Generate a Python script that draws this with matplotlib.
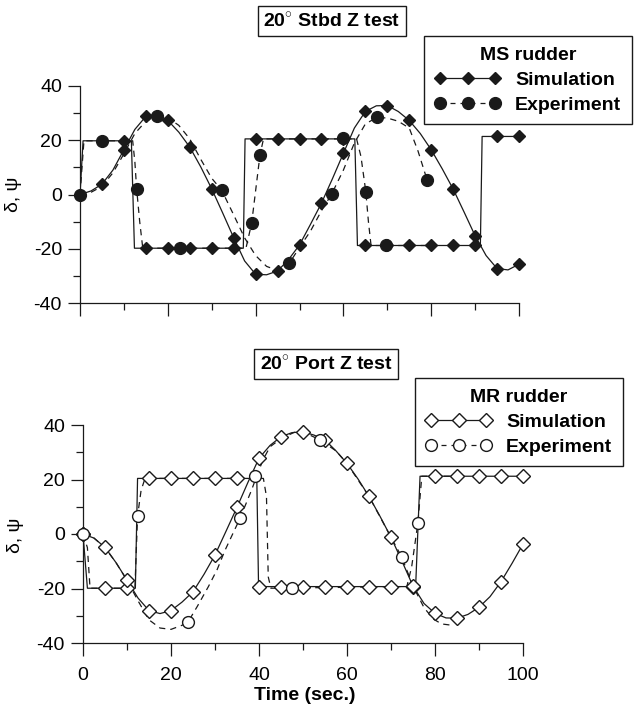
import matplotlib
matplotlib.use("Agg")
import matplotlib.pyplot as plt
from matplotlib.lines import Line2D
from matplotlib.ticker import MultipleLocator

plt.rcParams['font.family'] = ['Liberation Sans', 'DejaVu Sans']
plt.rcParams['mathtext.fontset'] = 'custom'
plt.rcParams['mathtext.rm'] = 'Liberation Sans'
plt.rcParams['axes.unicode_minus'] = False

# ---------------- data: top panel (20 deg Stbd Z test, MS rudder) ----------------
ms_sim_delta_t = [0, 0.7, 11.7, 12.4, 37.2, 37.6, 62.6, 63.2, 91.2, 91.6, 100]
ms_sim_delta_v = [0, 19.8, 19.8, -19.8, -19.8, 20.5, 20.5, -18.8, -18.8, 21.4, 21.4]
mk_t = [0, 5, 10, 15, 20, 25, 30, 35, 40, 45, 50, 55, 60, 65, 70, 75, 80, 85, 90, 95, 100]
ms_sim_delta_mk = [0, 19.8, 19.8, -19.8, -19.8, -19.8, -19.8, -19.8, 20.5, 20.5, 20.5,
                   20.5, 20.5, -18.8, -18.8, -18.8, -18.8, -18.8, -18.8, 21.4, 21.4]
psi_t = [0, 2.5, 5, 7.5, 10, 12.5, 15, 17.5, 20, 22.5, 25, 27.5, 30, 32.5, 35, 37.5, 40,
         42.5, 45, 47.5, 50, 52.5, 55, 57.5, 60, 62.5, 65, 67.5, 70, 72.5, 75, 77.5, 80,
         82.5, 85, 87.5, 90, 92.5, 95, 97.5, 100]
ms_sim_psi = [0, 1.3, 3.8, 9.0, 16.5, 24.0, 28.8, 29.6, 27.3, 23.0, 17.5, 10.2, 2.1, -6.8,
              -15.9, -24.5, -29.4, -29.6, -28.2, -24.0, -18.6, -11.0, -3.2, 5.8, 15.2, 24.5,
              30.6, 32.7, 32.8, 30.6, 27.3, 22.5, 16.5, 9.5, 2.0, -6.5, -15.2, -22.5, -27.3,
              -27.8, -25.7]
ms_exp_delta_t = [0, 0.9, 12.0, 12.5, 12.9, 13.6, 14.3, 37.8, 39.1, 41.0, 41.8, 63.0, 64.0,
                  65.1, 65.7, 66.3, 79.0]
ms_exp_delta_v = [0, 19.8, 19.8, 12.0, 2.1, -10.0, -19.8, -19.8, -10.6, 14.6, 20.5, 20.5,
                  14.0, 1.1, -10.0, -18.8, -18.8]
ms_exp_delta_mk_t = [0, 4.9, 12.9, 22.8, 39.1, 41.0, 59.8, 65.1, 69.7]
ms_exp_delta_mk_v = [0, 19.8, 2.1, -19.8, -10.6, 14.6, 20.8, 1.1, -18.8]
ms_exp_psi_t = [0, 2.5, 5, 7.5, 10, 12.5, 15, 17.5, 20, 22.5, 25, 27.5, 30, 32.3, 35, 37.5,
                40, 42.5, 45, 47.7, 50, 52.5, 55, 57.3, 60, 62.5, 65, 67.6, 70, 72.5, 75, 77,
                79.1]
ms_exp_psi_v = [0, 0.8, 3.0, 8.0, 15.0, 22.5, 27.0, 28.8, 28.3, 25.5, 20.5, 13.0, 6.0, 1.5,
                -7.5, -16.0, -22.5, -26.5, -28.0, -25.3, -19.5, -13.5, -6.0, 0.1, 9.0, 19.0,
                26.0, 28.4, 28.2, 27.0, 24.5, 16.0, 5.2]
ms_exp_psi_mk_t = [17.5, 32.3, 47.7, 57.3, 67.6, 79.1]
ms_exp_psi_mk_v = [28.8, 1.5, -25.3, 0.1, 28.4, 5.2]

# ---------------- data: bottom panel (20 deg Port Z test, MR rudder) ----------------
mr_sim_delta_t = [0, 1.0, 11.9, 12.4, 39.5, 39.9, 75.6, 76.6, 100]
mr_sim_delta_v = [0, -19.9, -19.9, 20.4, 20.4, -19.3, -19.3, 21.2, 21.2]
mr_sim_delta_mk = [0, -19.9, -19.9, 20.4, 20.4, 20.4, 20.4, 20.4, -19.3, -19.3, -19.3,
                   -19.3, -19.3, -19.3, -19.3, -19.3, 21.2, 21.2, 21.2, 21.2, 21.2]
mr_sim_psi = [0, -1.5, -4.9, -10.5, -16.9, -23.5, -28.1, -29.2, -28.1, -25.0, -21.2, -14.8,
              -7.7, 1.0, 9.8, 19.0, 27.8, 32.5, 35.7, 37.2, 37.5, 36.3, 34.5, 30.5, 25.9,
              20.2, 13.8, 6.5, -1.2, -10.0, -19.1, -25.5, -29.1, -30.8, -30.9, -29.5, -26.9,
              -23.0, -17.5, -10.8, -3.7]
mr_exp_delta_t = [0, 1.0, 1.6, 11.8, 12.4, 13.2, 14.1, 41.0, 41.7, 42.1, 42.7, 73.6, 74.7,
                  76.1, 77.0, 84.0]
mr_exp_delta_v = [0, -5.0, -19.9, -19.9, 6.6, 16.0, 20.4, 20.4, 13.7, -15.7, -19.9, -19.3,
                  -12.0, 3.9, 21.2, 21.2]
mr_exp_delta_mk_t = [0, 12.4, 39.1, 47.4, 76.1]
mr_exp_delta_mk_v = [0, 6.6, 21.2, -19.9, 3.9]
mr_exp_psi_t = [0, 2.5, 5, 7.5, 10, 12.5, 15, 17.5, 20, 22.5, 23.9, 26, 28.5, 30.5, 32.3,
                35.7, 38.3, 40, 41, 42.5, 45, 48, 50, 53.9, 57.5, 60, 65, 70, 72.4, 75,
                77.5, 79.6, 81.5, 83.4]
mr_exp_psi_v = [0, -1.5, -5.0, -10.5, -17.0, -24.5, -31.5, -34.5, -35.0, -33.5, -32.2,
                -26.5, -19.3, -13.0, -5.9, 5.8, 16.1, 23.5, 27.5, 32.0, 35.0, 37.3, 37.5,
                34.5, 30.5, 25.9, 13.8, -1.2, -8.3, -19.1, -27.0, -31.2, -33.0, -33.4]
mr_exp_psi_mk_t = [23.9, 35.7, 53.9, 72.4]
mr_exp_psi_mk_v = [-32.2, 5.8, 34.5, -8.3]

x_ticks = [0, 20, 40, 60, 80, 100]
y_ticks = [-40, -20, 0, 20, 40]

LC = '#1a1a1a'
W, H = 634, 706


def fx(px):
    return px / W


def fy(py):
    return 1 - py / H


fig = plt.figure(figsize=(W / 100, H / 100), dpi=100)
ax1 = fig.add_axes([fx(80), fy(303), (519 - 80) / W, (303 - 86) / H])
ax2 = fig.add_axes([fx(83), fy(643), (523 - 83) / W, (643 - 425) / H])


def style_axes(ax, show_xlabels):
    ax.set_xlim(0, 100)
    ax.set_ylim(-40, 40)
    for s in ['top', 'right']:
        ax.spines[s].set_visible(False)
    for s in ['left', 'bottom']:
        ax.spines[s].set_linewidth(0.9)
        ax.spines[s].set_color(LC)
    ax.set_xticks(x_ticks)
    ax.set_yticks(y_ticks)
    ax.xaxis.set_minor_locator(MultipleLocator(10))
    ax.yaxis.set_minor_locator(MultipleLocator(10))
    ax.tick_params(which='major', direction='out', length=9, width=0.9, color=LC,
                   labelsize=14)
    ax.tick_params(which='minor', direction='out', length=5, width=0.9, color=LC)
    ax.tick_params(axis='x', which='major', pad=8)
    ax.tick_params(axis='y', which='major', pad=4)
    if not show_xlabels:
        ax.tick_params(axis='x', labelbottom=False)


def draw_panel(ax, filled, sd_t, sd_v, sd_mk, sp_v, ed_t, ed_v, edm_t, edm_v,
               ep_t, ep_v, epm_t, epm_v):
    fc = LC if filled else 'white'
    dms = 6.5 if filled else 7
    cms = 8.5
    ax.plot(sd_t, sd_v, '-', color=LC, lw=0.9, zorder=2)
    ax.plot(psi_t, sp_v, '-', color=LC, lw=0.9, zorder=2)
    ax.plot(ed_t, ed_v, '--', color=LC, lw=0.9, dashes=(5, 4), zorder=2)
    ax.plot(ep_t, ep_v, '--', color=LC, lw=0.9, dashes=(5, 4), zorder=2)
    ax.plot(mk_t, sd_mk, 'D', ms=dms, mfc=fc, mec=LC, mew=1.0, clip_on=False, zorder=4)
    ax.plot(psi_t[::2], sp_v[::2], 'D', ms=dms, mfc=fc, mec=LC, mew=1.0, clip_on=False,
            zorder=4)
    ax.plot(edm_t, edm_v, 'o', ms=cms, mfc=fc, mec=LC, mew=1.0, clip_on=False, zorder=5)
    ax.plot(epm_t, epm_v, 'o', ms=cms, mfc=fc, mec=LC, mew=1.0, clip_on=False, zorder=5)
    h_sim = Line2D([], [], color=LC, lw=0.9, marker='D', ms=dms, mfc=fc, mec=LC, mew=1.0)
    h_exp = Line2D([], [], color=LC, lw=0.9, ls='--', dashes=(4, 4), marker='o', ms=cms,
                   mfc=fc, mec=LC, mew=1.0)
    return h_sim, h_exp


style_axes(ax1, False)
style_axes(ax2, True)

h1 = draw_panel(ax1, True, ms_sim_delta_t, ms_sim_delta_v, ms_sim_delta_mk, ms_sim_psi,
                ms_exp_delta_t, ms_exp_delta_v, ms_exp_delta_mk_t, ms_exp_delta_mk_v,
                ms_exp_psi_t, ms_exp_psi_v, ms_exp_psi_mk_t, ms_exp_psi_mk_v)
h2 = draw_panel(ax2, False, mr_sim_delta_t, mr_sim_delta_v, mr_sim_delta_mk, mr_sim_psi,
                mr_exp_delta_t, mr_exp_delta_v, mr_exp_delta_mk_t, mr_exp_delta_mk_v,
                mr_exp_psi_t, mr_exp_psi_v, mr_exp_psi_mk_t, mr_exp_psi_mk_v)


def add_legend(handles, title, right_px, top_px):
    leg = fig.legend(handles, ['Simulation', 'Experiment'], title=title,
                     loc='upper right', bbox_to_anchor=(fx(right_px), fy(top_px)),
                     numpoints=3, handlelength=3.4, handletextpad=0.75,
                     labelspacing=0.38, borderpad=0.55, borderaxespad=0,
                     fancybox=False, framealpha=1, edgecolor=LC,
                     prop={'weight': 'bold', 'size': 14},
                     title_fontproperties={'weight': 'bold', 'size': 14})
    leg.get_frame().set_linewidth(1.0)
    return leg


add_legend(h1, 'MS rudder', 632, 36)
add_legend(h2, 'MR rudder', 623, 378)

box = dict(boxstyle='square,pad=0.3', fc='white', ec=LC, lw=1.0)
fig.text(fx(332), fy(21), '20$^{\\circ}$ Stbd Z test', ha='center', va='center',
         fontsize=14, fontweight='bold', bbox=box)
fig.text(fx(326), fy(364), '20$^{\\circ}$ Port Z test', ha='center', va='center',
         fontsize=14, fontweight='bold', bbox=box)

fig.text(fx(13), fy(194), 'δ, ψ', rotation=90, ha='center', va='center', fontsize=14)
fig.text(fx(15), fy(535), 'δ, ψ', rotation=90, ha='center', va='center', fontsize=14)
fig.text(fx(305), fy(695), 'Time (sec.)', ha='center', va='center', fontsize=14,
         fontweight='bold')

fig.savefig('out.png', dpi=100, facecolor='white')
